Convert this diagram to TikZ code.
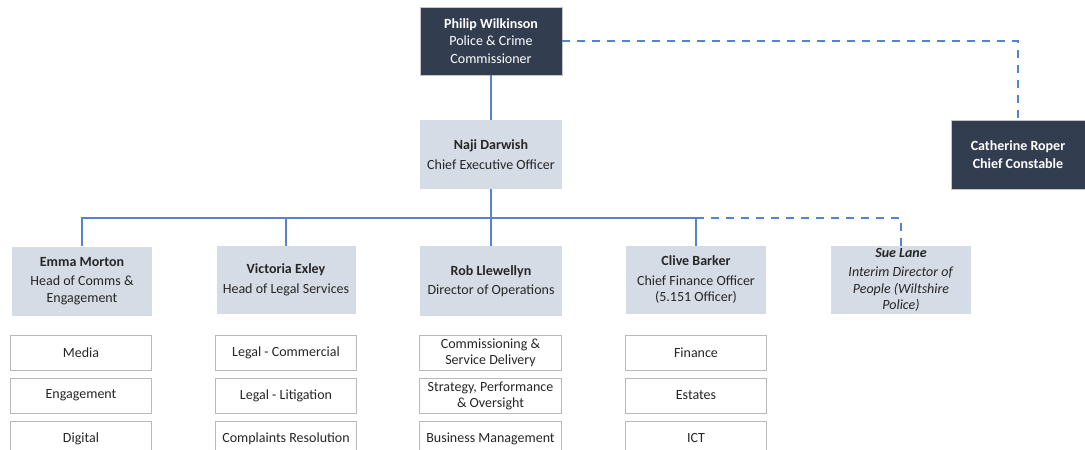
\documentclass[tikz,border=0pt]{standalone}
\usepackage{fontspec}
\setmainfont{Carlito}
\usepackage{xcolor}
\usepackage{tikz}
\usetikzlibrary{positioning}

\definecolor{topfill}{RGB}{50,62,80}
\definecolor{headfill}{RGB}{214,220,229}
\definecolor{linkblue}{RGB}{86,130,210}

\begin{document}
\begin{tikzpicture}[x=1pt, y=-1pt, node distance=7pt,
    top/.style={rectangle, fill=topfill, draw=gray!45, line width=0.8pt, text=white, align=center, minimum width=142pt, minimum height=68pt, inner sep=0pt, font=\fontsize{14}{17.5}\selectfont},
    head/.style={rectangle, fill=headfill, align=center, minimum width=140pt, minimum height=69pt, inner sep=0pt, text=black!85, font=\fontsize{14}{16.5}\selectfont},
    sub/.style={rectangle, fill=white, draw=gray!55, line width=1pt, align=center, minimum width=141pt, minimum height=35pt, inner sep=0pt, text=black!85, font=\fontsize{14}{16}\selectfont},
    link/.style={draw=linkblue, line width=1.6pt},
    dashlink/.style={link, dash pattern=on 8pt off 7pt}]
    \useasboundingbox (0,0) rectangle (1085,450);

    % top level
    \node[top] (pcc) at (491,41) {\textbf{Philip Wilkinson}\\Police \& Crime\\Commissioner};
    \node[head, minimum width=142pt] (ceo) at (491,154.5) {\textbf{Naji Darwish}\\[3pt]Chief Executive Officer};
    \node[top, minimum width=134pt, minimum height=69pt] (cc) at (1018,154.5) {\textbf{Catherine Roper}\\\textbf{Chief Constable}};

    % heads
    \node[head] (emma) at (82,281) {\textbf{Emma Morton}\\[3pt]Head of Comms \&\\Engagement};
    \node[head, minimum width=139pt, minimum height=68pt] (victoria) at (286,280) {\textbf{Victoria Exley}\\[3pt]Head of Legal Services};
    \node[head, minimum width=142pt, minimum height=70pt] (rob) at (491,281) {\textbf{Rob Llewellyn}\\[3pt]Director of Operations};
    \node[head, minimum height=68pt] (clive) at (696,280) {\textbf{Clive Barker}\\[3pt]Chief Finance Officer\\(5.151 Officer)};
    \node[head, minimum height=68pt] (sue) at (901,280) {\textit{\textbf{Sue Lane}}\\[3pt]\textit{Interim Director of}\\\textit{People (Wiltshire}\\\textit{Police)}};

    % teams
    \node[sub] (media) at (81,352.5) {Media};
    \node[sub, below=of media] (engage) {Engagement};
    \node[sub, below=of engage] (digital) {Digital};
    \node[sub] (commercial) at (286,352.5) {Legal - Commercial};
    \node[sub, below=of commercial] (litigation) {Legal - Litigation};
    \node[sub, below=of litigation] (complaints) {Complaints Resolution};
    \node[sub, minimum width=142pt] (commission) at (490.5,352.5) {Commissioning \&\\Service Delivery};
    \node[sub, minimum width=142pt, below=of commission] (strategy) {Strategy, Performance\\\& Oversight};
    \node[sub, minimum width=142pt, below=of strategy] (business) {Business Management};
    \node[sub] (finance) at (696,352.5) {Finance};
    \node[sub, below=of finance] (estates) {Estates};
    \node[sub, below=of estates] (ict) {ICT};

    % reporting lines
    \coordinate (bus) at (491,218);
    \draw[link] (pcc) -- (ceo);
    \draw[link] (ceo) -- (rob);
    \draw[link] (emma.north) |- (bus) -| (clive.north);
    \draw[link] (victoria.north) -- (victoria.north |- bus);
    \draw[dashlink] (clive.north |- bus) -| (sue.north);
    \draw[dashlink] (pcc.east) -| (cc.north);
\end{tikzpicture}
\end{document}
